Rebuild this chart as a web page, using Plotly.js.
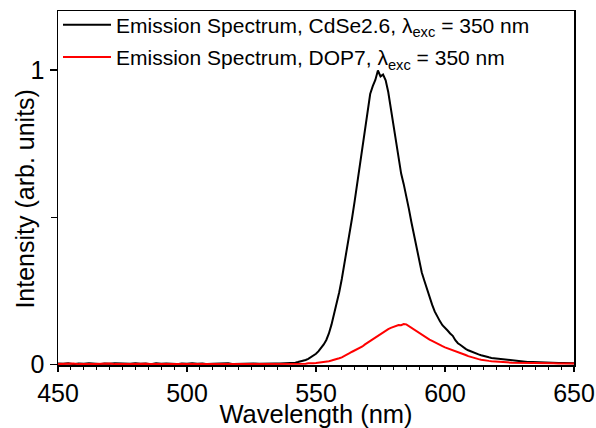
<!DOCTYPE html>
<html>
<head>
<meta charset="utf-8">
<script src="https://cdn.plot.ly/plotly-3.0.1.min.js"></script>
<style>html,body{margin:0;padding:0;background:#fff;}#chart{width:596px;height:428px;}</style>
</head>
<body>
<div id="chart"></div>
<script>
const wavelength = [
450,452,454,456,458,460,462,464,466,468,470,472,474,476,478,480,482,484,486,488,490,492,494,496,498,500,502,504,506,508,510,512,514,516,518,520,522,524,526,528,530,532,534,536,538,
540,541,542,543,544,545,546,547,548,549,550,551,552,553,554,555,556,557,558,559,560,561,562,563,564,565,566,567,568,569,570,571,572,573,574,575,576,577,578,579,580,
581,582,583,584,585,586,587,588,589,590,591,592,593,594,595,596,597,598,599,600,601,602,603,604,605,606,607,608,609,610,611,612,613,614,615,616,617,618,619,620,
622,624,626,628,630,632,634,636,638,640,642,644,646,648,650];

const cdse = [
0.003,0.002,0.004,0.001,0.003,0.002,0.004,0.002,0.001,0.003,0.002,0.004,0.003,0.001,0.002,0.004,0.002,0.003,0.001,0.004,0.002,0.003,0.002,0.001,0.003,0.002,0.004,0.002,0.003,0.001,0.002,0.003,0.002,0.004,0.001,0.002,0.003,0.002,0.003,0.002,0.003,0.002,0.003,0.003,0.004,
0.004,0.004,0.006,0.008,0.010,0.012,0.015,0.019,0.024,0.030,0.036,0.045,0.056,0.068,0.083,0.105,0.135,0.170,0.205,0.245,0.290,0.340,0.392,0.443,0.498,0.555,0.618,0.680,0.745,0.805,0.862,0.918,0.945,0.966,0.998,0.978,0.984,0.965,0.925,0.870,0.815,
0.752,0.695,0.648,0.612,0.573,0.528,0.482,0.438,0.392,0.350,0.312,0.284,0.255,0.228,0.203,0.180,0.162,0.147,0.133,0.125,0.115,0.105,0.097,0.082,0.072,0.066,0.058,0.053,0.048,0.044,0.040,0.037,0.034,0.031,0.028,0.026,0.024,0.022,0.021,0.019,
0.016,0.014,0.012,0.011,0.009,0.008,0.008,0.007,0.006,0.006,0.006,0.005,0.005,0.005,0.004];

const dop7 = [
0.001,0.002,0.001,0.003,0.001,0.002,0.001,0.001,0.002,0.001,0.003,0.001,0.002,0.001,0.001,0.002,0.001,0.002,0.001,0.001,0.003,0.001,0.002,0.001,0.002,0.001,0.001,0.002,0.001,0.003,0.001,0.002,0.001,0.001,0.002,0.001,0.002,0.001,0.003,0.001,0.002,0.001,0.002,0.001,0.002,
0.002,0.001,0.003,0.002,0.002,0.003,0.002,0.004,0.003,0.004,0.005,0.006,0.006,0.008,0.009,0.011,0.013,0.015,0.018,0.021,0.024,0.028,0.033,0.038,0.043,0.047,0.051,0.055,0.061,0.068,0.074,0.080,0.087,0.093,0.097,0.103,0.108,0.115,0.120,0.124,0.128,
0.131,0.134,0.133,0.137,0.136,0.130,0.126,0.121,0.114,0.108,0.103,0.097,0.090,0.084,0.080,0.075,0.071,0.066,0.062,0.058,0.055,0.051,0.047,0.044,0.041,0.038,0.035,0.032,0.028,0.025,0.022,0.020,0.018,0.016,0.014,0.013,0.012,0.011,0.010,0.009,
0.008,0.007,0.006,0.006,0.005,0.005,0.005,0.004,0.004,0.004,0.004,0.003,0.003,0.003,0.003];

const seriesNames = [
  'Emission Spectrum, CdSe2.6, λ<sub>exc</sub> = 350 nm',
  'Emission Spectrum, DOP7, λ<sub>exc</sub> = 350 nm'
];
const xTickVals = [450, 500, 550, 600, 650];
const yTickVals = [0, 1];
const xTitle = 'Wavelength (nm)';
const yTitle = 'Intensity (arb. units)';

const font = 'Arial, "Liberation Sans", sans-serif';

const traces = [
  {x: wavelength, y: cdse, name: seriesNames[0], type: 'scatter', mode: 'lines',
   legendgroup: 'g1', line: {color: '#000000', width: 2}},
  {x: wavelength, y: dop7, name: seriesNames[1], type: 'scatter', mode: 'lines',
   legendgroup: 'g2', line: {color: '#ff0000', width: 2}}
];

const layout = {
  width: 596, height: 428,
  margin: {l: 58, r: 22, t: 11, b: 63, autoexpand: false},
  paper_bgcolor: '#ffffff', plot_bgcolor: '#ffffff',
  font: {family: font, color: '#000000'},
  showlegend: true,
  legend: {x: 0.0, y: 1.018, xanchor: 'left', yanchor: 'top',
           bgcolor: 'rgba(0,0,0,0)', borderwidth: 0,
           font: {family: font, size: 21, color: '#000'},
           tracegroupgap: 2, itemwidth: 48},
  xaxis: {
    range: [450, 650], tickmode: 'array', tickvals: xTickVals,
    ticks: 'outside', ticklen: 5, tickwidth: 1.2, tickcolor: '#000',
    minor: {dtick: 5, ticks: 'outside', ticklen: 3, tickwidth: 1, tickcolor: '#000', showgrid: false},
    showline: true, linecolor: '#000', linewidth: 1.5, mirror: true,
    showgrid: false, zeroline: false,
    tickfont: {family: font, size: 25, color: '#000'},
    title: {text: xTitle, font: {family: font, size: 25.5, color: '#000'}}
  },
  yaxis: {
    range: [-0.002, 1.2], tickmode: 'array', tickvals: yTickVals,
    ticks: 'outside', ticklen: 7, tickwidth: 1.2, tickcolor: '#000',
    minor: {tickvals: [0.5], ticks: 'outside', ticklen: 6, tickwidth: 1, tickcolor: '#000', showgrid: false},
    showline: true, linecolor: '#000', linewidth: 1.5, mirror: true,
    showgrid: false, zeroline: false,
    tickfont: {family: font, size: 25, color: '#000'}
  },
  annotations: [
    {text: yTitle, xref: 'paper', yref: 'paper', x: -0.064, y: 0.47,
     xanchor: 'center', yanchor: 'middle', textangle: -90, showarrow: false,
     font: {family: font, size: 25, color: '#000'}}
  ]
};

Plotly.newPlot('chart', traces, layout, {displayModeBar: false, staticPlot: true});
</script>
</body>
</html>
